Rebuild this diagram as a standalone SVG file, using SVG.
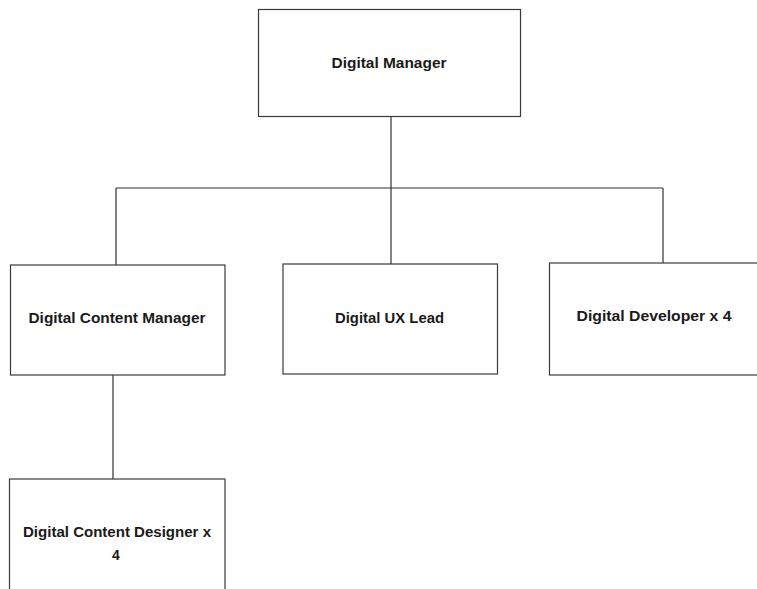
<svg xmlns="http://www.w3.org/2000/svg" width="757" height="589" viewBox="0 0 757 589">
<style>
.box{fill:#fff;stroke:#3a3a3a;stroke-width:1.2}
.lbl{font-family:"Liberation Sans",Arial,sans-serif;font-weight:bold;font-size:14px;fill:#1a1a1a;text-anchor:middle}
.conn{stroke:#333;stroke-width:1.2;fill:none}
</style>
<rect width="757" height="589" fill="#fff"/>
<g id="connectors">
<path class="conn" d="M391 117V188M116 188H663M116 188V265M391 188V264M663 188V263M113 375V479"/>
</g>
<g id="digital-manager">
<rect class="box" x="258.5" y="9.5" width="262" height="107"/>
<text class="lbl" x="389" y="68" textLength="115" lengthAdjust="spacingAndGlyphs">Digital Manager</text>
</g>
<g id="digital-content-manager">
<rect class="box" x="10.5" y="265" width="214.5" height="110"/>
<text class="lbl" x="117" y="323" textLength="177" lengthAdjust="spacingAndGlyphs">Digital Content Manager</text>
</g>
<g id="digital-ux-lead">
<rect class="box" x="283" y="264" width="214.5" height="110"/>
<text class="lbl" x="389.5" y="323" textLength="109" lengthAdjust="spacingAndGlyphs">Digital UX Lead</text>
</g>
<g id="digital-developer">
<rect class="box" x="549.5" y="263" width="220" height="112"/>
<text class="lbl" x="654" y="321" textLength="155" lengthAdjust="spacingAndGlyphs">Digital Developer x 4</text>
</g>
<g id="digital-content-designer">
<rect class="box" x="9.5" y="479" width="215.5" height="130"/>
<text class="lbl" x="117" y="537" textLength="188" lengthAdjust="spacingAndGlyphs">Digital Content Designer x</text>
<text class="lbl" x="116" y="560">4</text>
</g>
</svg>
